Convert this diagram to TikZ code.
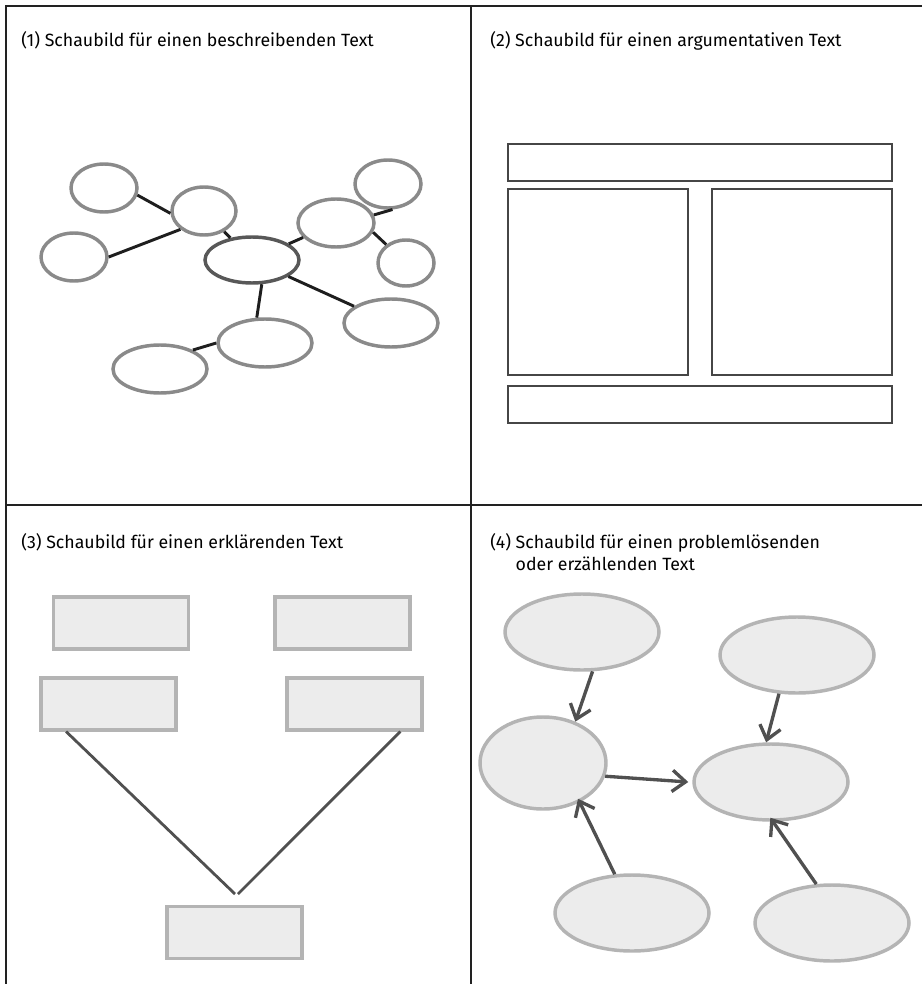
\documentclass[tikz,border=0pt]{standalone}
\usepackage{fontspec}
\setmainfont{Fira Sans}
\usepackage{tikz}
\usetikzlibrary{shapes.geometric, positioning, calc}
\usetikzlibrary{arrows.meta}

\definecolor{framegray}{RGB}{34,34,34}
\definecolor{ringgray}{RGB}{138,138,138}
\definecolor{hubgray}{RGB}{88,88,88}
\definecolor{linkgray}{RGB}{30,30,30}
\definecolor{boxline}{RGB}{70,70,70}
\definecolor{softline}{RGB}{180,180,180}
\definecolor{softfill}{RGB}{236,236,236}
\definecolor{arrowgray}{RGB}{80,80,80}

\tikzset{
  frame/.style={draw=framegray, line width=1.9pt},
  ring/.style={ellipse, draw=ringgray, line width=2.6pt, inner sep=0pt},
  hubring/.style={ring, draw=hubgray},
  link/.style={draw=linkgray, line width=2.2pt},
  plainbox/.style={draw=boxline, line width=1pt},
  softbox/.style={rectangle, draw=softline, fill=softfill, line width=2.3pt,
    inner sep=0pt, minimum width=101.25pt, minimum height=39pt},
  softring/.style={ellipse, draw=softline, fill=softfill, line width=2.6pt,
    inner sep=0pt, minimum width=115.5pt, minimum height=57pt},
  vline/.style={draw=arrowgray, line width=2.1pt},
  flow/.style={draw=arrowgray, line width=2.5pt,
    -{Straight Barb[length=10pt, width=16pt]}},
  caption/.style={anchor=base west, inner sep=0pt, font=\fontsize{13.3}{16.5}\selectfont}
}

\begin{document}
\begin{tikzpicture}[x=0.75pt,y=0.75pt,yscale=-1,xscale=1]
		\useasboundingbox (0,0) rectangle (922,984);

		%Frame Lines
		\draw [frame] (922,6) -- (6,6) -- (6,984) ;
		\draw [frame] (471,6) -- (471,984) ;
		\draw [frame] (6,505) -- (922,505) ;

		% Text Node
		\node [caption] (t1) at (21,47) {(1) Schaubild für einen beschreibenden Text};
		% Text Node
		\node [caption] (t2) at (490,47) {(2) Schaubild für einen argumentativen Text};
		% Text Node
		\node [caption] (t3) at (21,548) {(3) Schaubild für einen erklärenden Text};
		% Text Node
		\node [caption] (t4) at (490,548) {(4) \begin{tabular}[t]{@{}l@{}}Schaubild für einen problemlösenden\\oder erzählenden Text\end{tabular}};

		%Shape: Ellipses (1)
		\node [ring, minimum width=49.5pt, minimum height=36pt] (e1) at (104,188) {};
		\node [ring, minimum width=49.5pt, minimum height=36pt] (e2) at (74,257) {};
		\node [ring, minimum width=48pt, minimum height=36pt] (e3) at (204,211) {};
		\node [hubring, minimum width=70.5pt, minimum height=34.5pt] (hub) at (252,260) {};
		\node [ring, minimum width=57pt, minimum height=36pt] (e5) at (336,223) {};
		\node [ring, minimum width=49.5pt, minimum height=36pt] (e6) at (388,184) {};
		\node [ring, minimum width=42pt, minimum height=34.5pt] (e7) at (406,263) {};
		\node [ring, minimum width=70.5pt, minimum height=36pt] (e8) at (391,323) {};
		\node [ring, minimum width=70.5pt, minimum height=36pt] (e9) at (265,343) {};
		\node [ring, minimum width=70.5pt, minimum height=36pt] (e10) at (160,369) {};

		%Straight Lines (1)
		\draw [link] (e1.-12) -- (e3.184) ;
		\draw [link] (e2.0) -- (e3.218) ;
		\draw [link] (e3) -- (hub) ;
		\draw [link] (hub) -- (e5) ;
		\draw [link] (e5.12) -- (e6.-80) ;
		\draw [link] (e5.-14) -- (e7.137) ;
		\draw [link] (hub) -- (e8) ;
		\draw [link] (hub.-68) -- (e9.108) ;
		\draw [link] (e9.180) -- (e10.30) ;

		%Shape: Rectangles (2)
		\draw [plainbox] (508,144) rectangle (892,181) ;
		\draw [plainbox] (508,189) rectangle (688,375) ;
		\draw [plainbox] (712,189) rectangle (892,375) ;
		\draw [plainbox] (508,386) rectangle (892,423) ;

		%Shape: Rectangles (3)
		\node [softbox] (r1) at (121,623) {};
		\node [softbox] (r2) at (342.5,623) {};
		\node [softbox] (r3) at (108.5,704) {};
		\node [softbox] (r4) at (354.5,704) {};
		\node [softbox] (r5) at (234.5,932.5) {};
		\coordinate (tipL) at (235,894);
		\coordinate (tipR) at (238,894);

		%Straight Lines (3)
		\draw [vline] (r3.-147) -- (tipL) ;
		\draw [vline] (r4.-31) -- (tipR) ;

		%Shape: Ellipses (4)
		\node [softring] (s1) at (582,632) {};
		\node [softring] (s2) at (797,655) {};
		\node [softring, minimum width=94.5pt, minimum height=69pt] (s3) at (543,763) {};
		\node [softring] (s4) at (771,782) {};
		\node [softring] (s5) at (632,913) {};
		\node [softring] (s6) at (832,923) {};

		%Arrows (4)
		\draw [flow] (s1.-75) -- (s3.52) ;
		\draw [flow] (s2.-115) -- (s4.97) ;
		\draw [flow] (s3.-12) -- ([xshift=-3pt]s4.180) ;
		\draw [flow] (s5.114) -- ([shift={(4pt,-5pt)}]s3.-55) ;
		\draw [flow] (s6.112) -- ([yshift=-3pt]s4.-91) ;

	\end{tikzpicture}
\end{document}
